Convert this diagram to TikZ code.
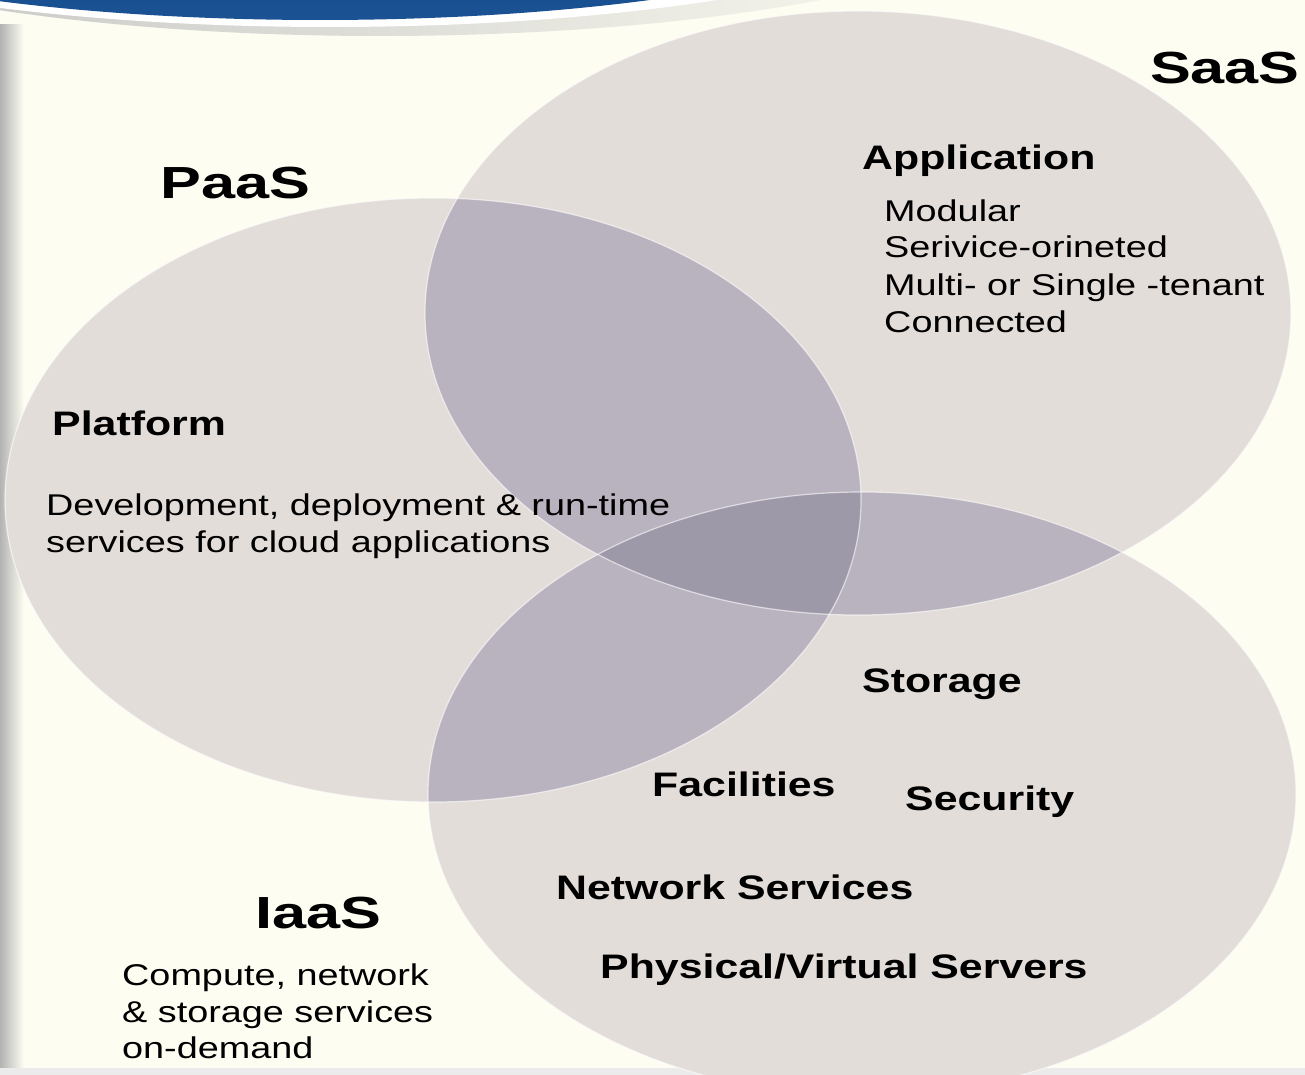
\documentclass[tikz,border=0pt]{standalone}
\usepackage{fontspec}
\setmainfont{Liberation Sans}
\newfontfamily\hfont[FakeStretch=1.36]{Liberation Sans Bold}
\newfontfamily\sfontx[FakeStretch=1.26]{Liberation Sans Bold}
\newfontfamily\dfont[FakeStretch=1.26]{Liberation Sans}
\definecolor{bg}{HTML}{FDFDF2}
\definecolor{one}{HTML}{E3DDDA}
\definecolor{two}{HTML}{B9B3BF}
\definecolor{three}{HTML}{9D99A9}
\definecolor{bannerblue}{HTML}{1A5293}
\definecolor{bannerdark}{HTML}{0B3570}
\tikzset{
  title/.style={anchor=base west, inner sep=0pt, font=\hfont\fontsize{45}{50}\selectfont},
  head/.style={anchor=base west, inner sep=0pt, font=\sfontx\fontsize{34}{40}\selectfont},
  desc/.style={anchor=base west, inner sep=0pt, font=\dfont\fontsize{30}{36}\selectfont},
  rim/.style={draw=white, draw opacity=0.6, line width=1.2pt}
}
\begin{document}
\begin{tikzpicture}[x=1pt,y=-1pt]
\useasboundingbox (0,0) rectangle (1305,1075);
% background
\fill[bg] (0,0) rectangle (1305,1075);
% left shadow strip
\shade[left color=black!30, right color=bg] (0,25) rectangle (24,1075);
% bottom strip
\fill[black!8] (0,1068) rectangle (1305,1075);
% banner
\shade[left color=black!25, right color=bg] (380,-120) ellipse [x radius=690pt, y radius=156pt];
\fill[white] (330,-120) ellipse [x radius=670pt, y radius=147pt];
\shade[top color=bannerdark, bottom color=bannerblue] (320,-120) ellipse [x radius=640pt, y radius=140pt];
% ellipses
\coordinate (cs) at (858,313);
\coordinate (cp) at (433,500);
\coordinate (ci) at (862,794);
\def\SaaS{(cs) ellipse [x radius=433pt, y radius=302pt]}
\def\PaaS{(cp) ellipse [x radius=428pt, y radius=302pt]}
\def\IaaS{(ci) ellipse [x radius=434pt, y radius=302pt]}
\fill[one] \SaaS;
\fill[one] \PaaS;
\fill[one] \IaaS;
\begin{scope}\clip \SaaS; \fill[two] \PaaS; \fill[two] \IaaS; \end{scope}
\begin{scope}\clip \PaaS; \fill[two] \IaaS; \end{scope}
\begin{scope}\clip \SaaS; \clip \PaaS; \fill[three] \IaaS; \end{scope}
\draw[rim] \SaaS;
\draw[rim] \PaaS;
\draw[rim] \IaaS;
% titles
\node[title, anchor=base east] (saas) at (1300,84) {SaaS};
\node[title] (paas) at (160,199) {PaaS};
\node[title] (iaas) at (255,928) {IaaS};
% SaaS texts
\node[head] (app) at (862,170) {Application};
\node[desc] (s1) at (884,222) {Modular};
\node[desc] (s2) at (884,258) {Serivice-orineted};
\node[desc] (s3) at (884,295) {Multi- or Single -tenant};
\node[desc] (s4) at (884,332) {Connected};
% PaaS texts
\node[head] (plat) at (52,435) {Platform};
\node[desc] (p1) at (46,515) {Development, deployment \& run-time};
\node[desc] (p2) at (46,552) {services for cloud applications};
% IaaS texts
\node[head] (sto) at (862,692) {Storage};
\node[head] (fac) at (652,796) {Facilities};
\node[head] (sec) at (905,810) {Security};
\node[head] (net) at (556,899) {Network Services};
\node[head] (phy) at (600,978) {Physical/Virtual Servers};
\node[desc] (i1) at (122,985) {Compute, network};
\node[desc] (i2) at (122,1022) {\& storage services};
\node[desc] (i3) at (122,1058) {on-demand};
\end{tikzpicture}
\end{document}
